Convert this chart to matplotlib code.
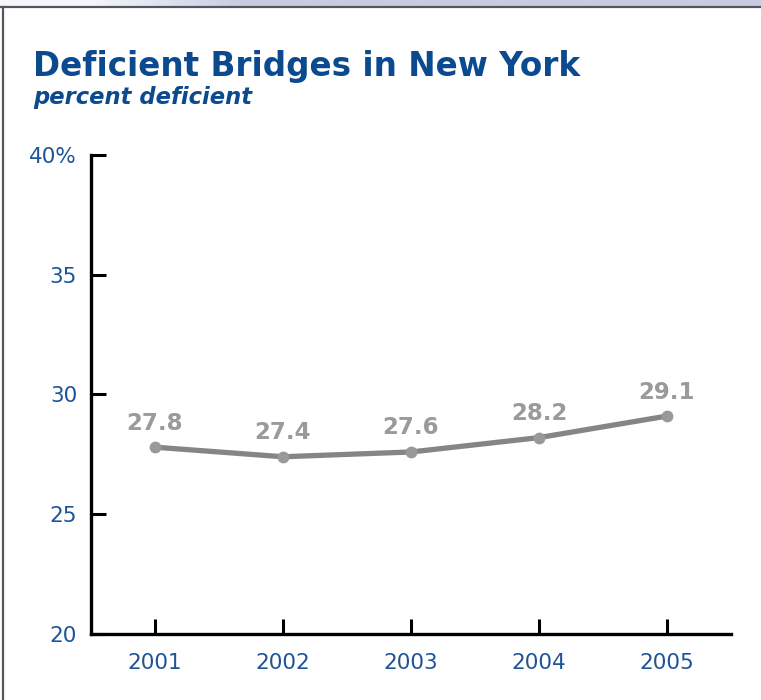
import matplotlib.pyplot as plt
import numpy as np

# Share of bridges rated deficient, by year
years = [2001, 2002, 2003, 2004, 2005]
pct_deficient = [27.8, 27.4, 27.6, 28.2, 29.1]
y_ticks = [20, 25, 30, 35, 40]
y_tick_labels = ['20', '25', '30', '35', '40%']

title_blue = '#0b4a8e'
label_blue = '#1d5399'

fig = plt.figure(figsize=(7.61, 7.00), dpi=100)
fig.patch.set_facecolor('white')

# shaded strip along the top edge
strip = fig.add_axes([0, 1 - 6 / 700, 1, 6 / 700])
grad = np.clip((np.linspace(0, 1, 400) - 0.12) / 0.2, 0, 1)
c0 = np.array([0.96, 0.965, 0.98])
c1 = np.array([0.78, 0.80, 0.89])
img = c0 + grad[:, None] * (c1 - c0)
strip.imshow(img[None, :, :], aspect='auto', extent=[0, 1, 0, 1])
strip.set_axis_off()

# frame lines (top and left)
fig.add_artist(plt.Line2D([0, 1], [1 - 7 / 700, 1 - 7 / 700], color='#55555f', lw=1.6,
                          transform=fig.transFigure))
fig.add_artist(plt.Line2D([3 / 761, 3 / 761], [0, 1 - 7 / 700], color='#55555f', lw=1.6,
                          transform=fig.transFigure))

fig.text(33 / 761, 1 - 76 / 700, 'Deficient Bridges in New York', color=title_blue,
         fontsize=23.5, fontweight='bold', ha='left', va='baseline')
fig.text(33 / 761, 1 - 104 / 700, 'percent deficient', color=title_blue,
         fontsize=16.3, fontweight='bold', style='italic', ha='left', va='baseline')

ax = fig.add_axes([91 / 761, 66 / 700, 640 / 761, 479 / 700])
ax.plot(years, pct_deficient, color='#858585', lw=3.8, solid_capstyle='round',
        marker='o', markersize=7.5, markerfacecolor='#999999', markeredgecolor='#999999',
        zorder=3)

for x, v in zip(years, pct_deficient):
    ax.annotate(f'{v:.1f}', (x, v), xytext=(0, 9), textcoords='offset points',
                ha='center', va='bottom', color='#9a9a9a', fontsize=16.5,
                fontweight='bold')

ax.set_xlim(2000.5, 2005.5)
ax.set_ylim(20, 40)
ax.set_xticks(years)
ax.set_xticklabels([str(y) for y in years])
ax.set_yticks(y_ticks)
ax.set_yticklabels(y_tick_labels)

for side in ['top', 'right']:
    ax.spines[side].set_visible(False)
for side in ['left', 'bottom']:
    ax.spines[side].set_linewidth(2.4)
    ax.spines[side].set_color('black')
    ax.spines[side].set_capstyle('projecting')

ax.tick_params(axis='both', direction='in', length=11, width=2.2, color='black',
               labelcolor=label_blue, labelsize=15.5)
ax.tick_params(axis='y', pad=10)
ax.tick_params(axis='x', pad=14)

fig.savefig('out.png', dpi=100, facecolor='white')
